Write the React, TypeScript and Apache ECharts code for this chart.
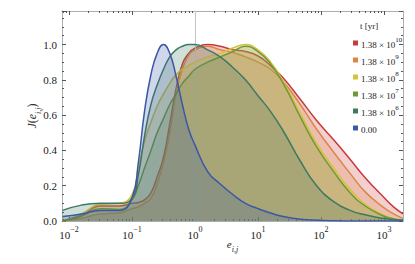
import React, { useEffect, useRef } from "react";
import * as echarts from "echarts";

// e_{i,j} sample positions (shared by all series)
const X_VALUES = [0.0079, 0.0158, 0.0316, 0.063, 0.1, 0.126, 0.158, 0.2, 0.251, 0.316, 0.398, 0.501, 0.631, 0.794, 1, 1.585, 2.512, 3.981, 6.31, 10, 15.85, 25.12, 46.77, 85.11, 158.5, 288.4, 501.2, 955, 1413, 1995];

const SERIES_NAMES = ["1.38×10^10", "1.38×10^9", "1.38×10^8", "1.38×10^7", "1.38×10^6", "0.00"];
const LEGEND_BASE = ["1.38 × 10", "1.38 × 10", "1.38 × 10", "1.38 × 10", "1.38 × 10", "0.00"];
const LEGEND_EXP = ["10", "9", "8", "7", "6", ""];
const COLORS = ["#c93a3c", "#dc8646", "#d6c23c", "#6b9a3b", "#3d7a62", "#3a58a6"];

const RED = [0.0, 0.03, 0.085, 0.085, 0.1, 0.105, 0.12, 0.16, 0.25, 0.36, 0.55, 0.75, 0.89, 0.95, 0.98, 1.0, 0.99, 0.97, 0.96, 0.935, 0.88, 0.81, 0.69, 0.57, 0.46, 0.35, 0.245, 0.14, 0.08, 0.04];
const ORANGE = [0.0, 0.015, 0.04, 0.045, 0.07, 0.08, 0.1, 0.13, 0.21, 0.33, 0.5, 0.72, 0.86, 0.94, 0.97, 0.99, 0.97, 0.955, 0.93, 0.9, 0.86, 0.79, 0.66, 0.52, 0.39, 0.27, 0.165, 0.08, 0.04, 0.015];
const YELLOW = [0.0, 0.04, 0.095, 0.1, 0.15, 0.3, 0.45, 0.56, 0.65, 0.72, 0.78, 0.83, 0.86, 0.88, 0.9, 0.93, 0.95, 0.98, 1.0, 0.97, 0.9, 0.79, 0.61, 0.44, 0.3, 0.18, 0.095, 0.035, 0.015, 0.006];
const GREEN = [0.0, 0.03, 0.07, 0.065, 0.12, 0.2, 0.3, 0.4, 0.5, 0.58, 0.66, 0.72, 0.78, 0.82, 0.86, 0.9, 0.93, 0.96, 0.99, 0.96, 0.89, 0.78, 0.59, 0.42, 0.28, 0.16, 0.085, 0.03, 0.012, 0.005];
const TEAL = [0.06, 0.09, 0.1, 0.1, 0.13, 0.26, 0.48, 0.66, 0.77, 0.86, 0.93, 0.97, 0.99, 1.0, 1.0, 0.97, 0.93, 0.87, 0.8, 0.71, 0.62, 0.51, 0.34, 0.2, 0.11, 0.06, 0.035, 0.015, 0.008, 0.004];
const BLUE = [0.025, 0.04, 0.06, 0.06, 0.13, 0.33, 0.62, 0.83, 0.95, 1.0, 0.95, 0.82, 0.66, 0.52, 0.43, 0.28, 0.21, 0.15, 0.1, 0.07, 0.045, 0.025, 0.01, 0.004, 0.001, 0, 0, 0, 0, 0];

const SERIES_VALUES = [RED, ORANGE, YELLOW, GREEN, TEAL, BLUE];

const X_MAJOR = [-2, -1, 0, 1, 2, 3];
const Y_MINOR = [0.05, 0.1, 0.15, 0.25, 0.3, 0.35, 0.45, 0.5, 0.55, 0.65, 0.7, 0.75, 0.85, 0.9, 0.95, 1.05, 1.1, 1.15];

const FONT = "Liberation Serif";

export default function App() {
  const ref = useRef<HTMLDivElement>(null);
  useEffect(() => {
    if (!ref.current) return;
    const chart = echarts.init(ref.current, null, { renderer: "svg" });
    const XMIN = -2.11;
    const XMAX = 3.3;
    const xMinor: number[] = [];
    for (let n = -3; n <= 3; n++) {
      for (let k = 2; k <= 9; k++) {
        const v = Math.log10(k) + n;
        if (v > XMIN && v < XMAX) xMinor.push(v);
      }
    }
    const frame = "#a7b1ae";
    const tickC = "#555";
    const labelRich = {
      b: { fontFamily: FONT, fontSize: 11, color: "#222", lineHeight: 15, verticalAlign: "bottom" as const },
      s: { fontFamily: FONT, fontSize: 8, color: "#222", lineHeight: 15, verticalAlign: "top" as const },
    };
    const xAxisBase = (pos: "bottom" | "top") => ({
      type: "value" as const,
      position: pos,
      min: XMIN,
      max: XMAX,
      splitLine: { show: false },
    });
    const series: any[] = SERIES_VALUES.map((vals, i) => ({
      name: SERIES_NAMES[i],
      type: "line",
      xAxisIndex: 0,
      yAxisIndex: 0,
      data: vals.map((v, j) => [Math.log10(X_VALUES[j]), v]),
      smooth: 0.5,
      showSymbol: false,
      lineStyle: { color: COLORS[i], width: 1.5 },
      itemStyle: { color: COLORS[i] },
      areaStyle: { color: COLORS[i], opacity: 0.24 },
      z: 2 + i,
    }));
    series.unshift({
      type: "line",
      data: [],
      xAxisIndex: 0,
      yAxisIndex: 0,
      z: 1,
      markLine: {
        silent: true,
        symbol: "none",
        label: { show: false },
        lineStyle: { color: "#c4c4c4", width: 1, type: "solid" },
        data: [{ xAxis: 0 }],
      },
    });

    const graphic: any[] = [
      {
        type: "text",
        x: 360,
        y: 26,
        style: { text: "t [yr]", fontFamily: FONT, fontSize: 9, fill: "#222", verticalAlign: "middle" },
      },
    ];
    LEGEND_BASE.forEach((b, i) => {
      const y = 43 + 17 * i;
      graphic.push({
        type: "rect",
        shape: { x: 353, y: y - 2.5, width: 5, height: 5 },
        style: { fill: COLORS[i] },
      });
      graphic.push({
        type: "text",
        x: 361,
        y: y,
        style: {
          text: LEGEND_EXP[i] ? `{b|${b}}{s|${LEGEND_EXP[i]}}` : `{b|${b}}`,
          verticalAlign: "middle",
          rich: {
            b: { fontFamily: FONT, fontSize: 9, fill: "#222", lineHeight: 13, verticalAlign: "bottom" },
            s: { fontFamily: FONT, fontSize: 7, fill: "#222", lineHeight: 13, verticalAlign: "top" },
          },
        },
      });
    });

    const noZero = { onZero: false };
    chart.setOption({
      animation: false,
      backgroundColor: "#fff",
      grid: { left: 62, top: 11, right: 12, bottom: 43, containLabel: false },
      xAxis: [
        {
          ...xAxisBase("bottom"),
          axisLine: { show: true, ...noZero, lineStyle: { color: frame, width: 1 } },
          axisTick: { show: true, inside: true, length: 4, customValues: X_MAJOR, lineStyle: { color: tickC } },
          axisLabel: {
            show: true,
            customValues: X_MAJOR,
            margin: 4,
            formatter: (v: number) => {
              const e = Math.round(v);
              return `{b|10}{s|${e < 0 ? "−" + -e : e}}`;
            },
            rich: labelRich,
          },
          name: "{e|e}{sub|i,j}",
          nameLocation: "middle",
          nameGap: 17,
          nameMoveOverlap: false,
          nameTextStyle: {
            rich: {
              e: { fontFamily: FONT, fontStyle: "italic", fontSize: 11, color: "#222", lineHeight: 15, verticalAlign: "top" },
              sub: { fontFamily: FONT, fontStyle: "italic", fontSize: 8, color: "#222", lineHeight: 15, verticalAlign: "bottom" },
            },
          },
        },
        {
          ...xAxisBase("bottom"),
          axisLine: { show: false, ...noZero },
          axisTick: { show: true, inside: true, length: 2, customValues: xMinor, lineStyle: { color: tickC } },
          axisLabel: { show: false },
        },
        {
          ...xAxisBase("top"),
          axisLine: { show: true, ...noZero, lineStyle: { color: frame, width: 1 } },
          axisTick: { show: true, inside: true, length: 4, customValues: X_MAJOR, lineStyle: { color: tickC } },
          axisLabel: { show: false },
        },
        {
          ...xAxisBase("top"),
          axisLine: { show: false, ...noZero },
          axisTick: { show: true, inside: true, length: 2, customValues: xMinor, lineStyle: { color: tickC } },
          axisLabel: { show: false },
        },
      ],
      yAxis: [
        {
          type: "value",
          position: "left",
          min: 0,
          max: 1.19,
          interval: 0.2,
          splitLine: { show: false },
          axisLine: { show: true, ...noZero, lineStyle: { color: frame, width: 1 } },
          axisTick: { show: true, inside: true, length: 4, lineStyle: { color: tickC } },
          axisLabel: {
            show: true,
            margin: 5,
            fontFamily: FONT,
            fontSize: 11,
            color: "#222",
            formatter: (v: number) => (v > 1.1 ? "" : v.toFixed(1)),
          },
          name: "{j|J}{p|(}{e|e}{sub|i,j}{p|)}",
          nameLocation: "middle",
          nameGap: 20,
          nameMoveOverlap: false,
          nameTextStyle: {
            rich: {
              j: { fontFamily: FONT, fontStyle: "italic", fontSize: 12, color: "#333", lineHeight: 16, verticalAlign: "top" },
              p: { fontFamily: FONT, fontSize: 12, color: "#333", lineHeight: 16, verticalAlign: "top" },
              e: { fontFamily: FONT, fontStyle: "italic", fontSize: 12, color: "#333", lineHeight: 16, verticalAlign: "top" },
              sub: { fontFamily: FONT, fontStyle: "italic", fontSize: 8, color: "#333", lineHeight: 16, verticalAlign: "bottom" },
            },
          },
        },
        {
          type: "value",
          position: "left",
          min: 0,
          max: 1.19,
          splitLine: { show: false },
          axisLine: { show: false, ...noZero },
          axisTick: { show: true, inside: true, length: 2, customValues: Y_MINOR, lineStyle: { color: tickC } },
          axisLabel: { show: false },
        },
        {
          type: "value",
          position: "right",
          min: 0,
          max: 1.19,
          interval: 0.2,
          splitLine: { show: false },
          axisLine: { show: true, ...noZero, lineStyle: { color: frame, width: 1 } },
          axisTick: { show: true, inside: true, length: 4, lineStyle: { color: tickC } },
          axisLabel: { show: false },
        },
        {
          type: "value",
          position: "right",
          min: 0,
          max: 1.19,
          splitLine: { show: false },
          axisLine: { show: false, ...noZero },
          axisTick: { show: true, inside: true, length: 2, customValues: Y_MINOR, lineStyle: { color: tickC } },
          axisLabel: { show: false },
        },
      ],
      series,
      graphic,
    });
    return () => chart.dispose();
  }, []);
  return <div ref={ref} style={{ width: 415, height: 264, position: "absolute", left: 0, top: 0 }} />;
}
